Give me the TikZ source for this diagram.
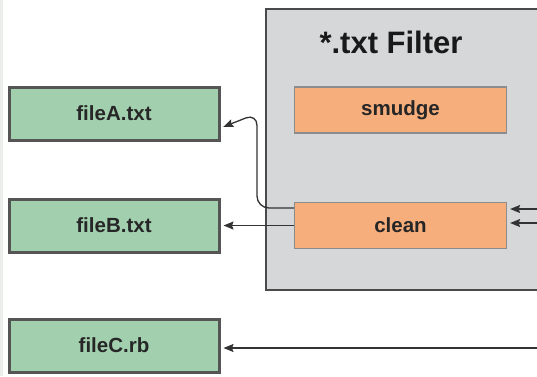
\documentclass[tikz,border=0pt]{standalone}
\usepackage{fontspec}
\setmainfont{Liberation Sans}
\usetikzlibrary{arrows.meta}
\definecolor{filegreen}{HTML}{A2CFAE}
\definecolor{fileedge}{HTML}{555555}
\definecolor{filtergray}{HTML}{D6D7D9}
\definecolor{filteredge}{HTML}{4A4A4A}
\definecolor{steporange}{HTML}{F5AE7C}
\definecolor{stepedge}{HTML}{8C8C8C}
\definecolor{wire}{HTML}{333333}
\definecolor{strip}{HTML}{ECEEEC}
\tikzset{
  filebox/.style={draw=fileedge, line width=3pt, fill=filegreen,
    minimum width=210pt, minimum height=53pt, inner sep=0pt,
    font=\fontsize{20.5}{24}\selectfont\bfseries, text=black!85},
  stepbox/.style={draw=stepedge, line width=1.2pt, fill=steporange,
    minimum width=212pt, minimum height=46pt, inner sep=0pt,
    font=\fontsize{20.5}{24}\selectfont\bfseries, text=black!85},
  link/.style={draw=wire, line width=1.3pt,
    -{Stealth[length=10pt,width=8pt,inset=1.5pt]}, shorten >=3pt},
}
\begin{document}
\begin{tikzpicture}[x=1pt, y=-1pt]
  \useasboundingbox (0,0) rectangle (537,376);
  \clip (0,0) rectangle (537,376);
  \fill[white] (0,0) rectangle (537,376);
  \fill[strip] (0,0) rectangle (3,376);

  % filter container, running past the right edge
  \draw[draw=filteredge, line width=1.5pt, fill=filtergray]
    (266,9) rectangle (580,290);
  \node[font=\fontsize{31}{36}\selectfont\bfseries, text=black!90]
    (title) at (391,42) {*.txt Filter};

  % filter steps
  \node[stepbox] (smudge) at (400.5,110) {smudge};
  \node[stepbox] (clean) at (400.5,225.5) {clean};

  % working-tree files
  \node[filebox] (fileA) at (114,113.5) {fileA.txt};
  \node[filebox] (fileB) at (114,225.5) {fileB.txt};
  \node[filebox] (fileC) at (114,345.5) {fileC.rb};

  % inputs arriving from the right
  \coordinate (inA) at (545,209);
  \coordinate (inB) at (545,223);
  \coordinate (inC) at (545,348);
  \coordinate (outA) at ([yshift=17.5pt]clean.west);
  \coordinate (bend) at (257,208);

  \draw[link] (inA) -- (inA -| clean.east);
  \draw[link] (inB) -- (inB -| clean.east);
  \draw[link] (inC) -- (inC -| fileC.east);

  % outputs of the clean step
  \draw[link, rounded corners=12pt]
    (outA) -- (bend) -- (bend |- fileA.east) -- ([yshift=-14.5pt]fileA.east);
  \draw[link] (clean.west) -- (fileB.east);
\end{tikzpicture}
\end{document}
